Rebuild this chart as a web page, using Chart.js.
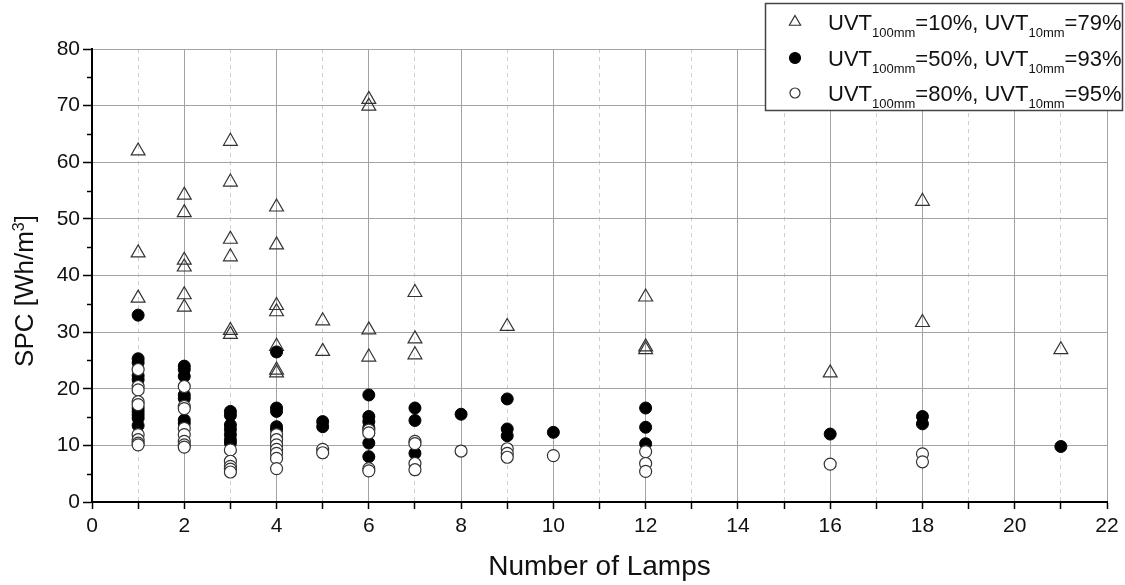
<!DOCTYPE html>
<html>
<head>
<meta charset="utf-8">
<script src="https://cdn.jsdelivr.net/npm/chart.js@4.4.1/dist/chart.umd.min.js"></script>
<style>
  html, body { margin: 0; padding: 0; background: #fff; }
</style>
</head>
<body>
<canvas id="myChart" width="1125" height="585"></canvas>
<script>
// UVT100mm=10%, UVT10mm=79%  (triangles)
const lampsLow = [1, 1, 1, 2, 2, 2, 2, 2, 2, 3, 3, 3, 3, 3, 3, 4, 4, 4, 4, 4, 4, 4, 5, 5, 6, 6, 6, 6, 7, 7, 7, 9, 12, 12, 12, 16, 18, 18, 21];
const spcLow = [62, 44, 36, 54.2, 51.1, 42.7, 41.5, 36.6, 34.4, 63.7, 56.5, 46.4, 43.3, 30.3, 29.6, 52.1, 45.4, 34.7, 33.6, 27.5, 23.3, 22.8, 32, 26.6, 71.1, 69.9, 30.4, 25.6, 37, 28.8, 26, 31, 36.2, 27.4, 26.9, 22.8, 53.1, 31.7, 26.9];

// UVT100mm=50%, UVT10mm=93%  (filled circles)
const lampsMid = [1, 1, 1, 1, 1, 1, 1, 1, 1, 1, 2, 2, 2, 2, 2, 2, 2, 3, 3, 3, 3, 3, 3, 3, 4, 4, 4, 4, 4, 4, 4, 5, 5, 6, 6, 6, 6, 6, 6, 7, 7, 7, 8, 9, 9, 9, 10, 12, 12, 12, 16, 18, 18, 21];
const spcMid = [33, 25.3, 24.6, 22.3, 21.6, 16.6, 16.0, 15.4, 14.8, 13.5, 24.0, 23.4, 22.2, 18.9, 18.3, 14.5, 13.9, 16.0, 15.3, 13.6, 12.8, 11.9, 11.0, 10.4, 26.5, 16.6, 16.0, 13.3, 12.7, 11.2, 10.2, 14.2, 13.3, 18.9, 15.1, 14.2, 13.1, 10.4, 8.0, 16.6, 14.4, 8.6, 15.5, 18.2, 12.9, 11.7, 12.3, 16.6, 13.2, 10.3, 12.0, 15.1, 13.8, 9.8];

// UVT100mm=80%, UVT10mm=95%  (open circles)
const lampsHigh = [1, 1, 1, 1, 1, 1, 1, 1, 1, 2, 2, 2, 2, 2, 2, 2, 2, 3, 3, 3, 3, 3, 4, 4, 4, 4, 4, 4, 4, 5, 5, 6, 6, 6, 6, 7, 7, 7, 7, 8, 9, 9, 9, 10, 12, 12, 12, 16, 18, 18];
const spcHigh = [23.4, 20.4, 19.8, 17.7, 17.2, 11.9, 11.0, 10.4, 10.1, 20.4, 16.9, 16.5, 13.0, 11.9, 10.7, 10.1, 9.7, 9.2, 7.2, 6.3, 5.8, 5.3, 11.9, 11.0, 10.1, 9.3, 8.6, 7.7, 5.9, 9.3, 8.7, 12.7, 12.2, 5.9, 5.5, 10.7, 10.3, 6.8, 5.7, 9.0, 9.4, 8.6, 7.9, 8.2, 8.9, 6.8, 5.4, 6.7, 8.5, 7.1];

// legend text pieces
const uvt100 = ["10%", "50%", "80%"];
const uvt10 = ["79%", "93%", "95%"];

const xTicks = [0, 2, 4, 6, 8, 10, 12, 14, 16, 18, 20, 22];
const yTicks = [0, 10, 20, 30, 40, 50, 60, 70, 80];

const FONT = "Arial, 'Liberation Sans', Helvetica, sans-serif";

function toPoints(xs, ys) {
  return xs.map((x, i) => ({ x: x, y: ys[i] }));
}

// minor y ticks, y title with superscript, and the boxed legend
const extras = {
  id: "extras",
  afterDraw(chart) {
    const ctx = chart.ctx;
    const xs = chart.scales.x;
    const ys = chart.scales.y;

    // short ticks at the 5s
    ctx.save();
    ctx.strokeStyle = "#000";
    ctx.lineWidth = 1.5;
    for (let v = 5; v < 80; v += 10) {
      const py = Math.round(ys.getPixelForValue(v)) + 0.5;
      ctx.beginPath();
      ctx.moveTo(xs.left - 5, py);
      ctx.lineTo(xs.left, py);
      ctx.stroke();
    }
    ctx.restore();

    // y title: SPC [Wh/m³]
    ctx.save();
    ctx.translate(33, 291);
    ctx.rotate(-Math.PI / 2);
    ctx.fillStyle = "#111";
    ctx.textBaseline = "alphabetic";
    ctx.textAlign = "left";
    const big = "26px " + FONT;
    const small = "16px " + FONT;
    ctx.font = big;
    const wA = ctx.measureText("SPC [Wh/m").width;
    const wC = ctx.measureText("]").width;
    ctx.font = small;
    const wB = ctx.measureText("3").width;
    let tx = -(wA + wB + wC) / 2;
    ctx.font = big;
    ctx.fillText("SPC [Wh/m", tx, 0);
    tx += wA;
    ctx.font = small;
    ctx.fillText("3", tx, -9);
    tx += wB;
    ctx.font = big;
    ctx.fillText("]", tx, 0);
    ctx.restore();

    // legend box
    ctx.save();
    ctx.fillStyle = "#fff";
    ctx.strokeStyle = "#444";
    ctx.lineWidth = 1.5;
    ctx.fillRect(765, 3, 358, 108);
    ctx.strokeRect(765.5, 3.5, 357, 107);

    const baselines = [30, 66, 101];
    const ds = chart.data.datasets;
    const markerSize = [6.5, 5.5, 5];
    baselines.forEach((by, i) => {
      const d = ds[i];
      ctx.fillStyle = d.backgroundColor;
      ctx.strokeStyle = d.borderColor;
      ctx.lineWidth = 1.2;
      Chart.helpers.drawPoint(ctx, { pointStyle: d.pointStyle, radius: markerSize[i], rotation: 0, borderWidth: 1.2 }, 795, by - 8);

      const parts = [
        { t: "UVT", sub: false },
        { t: "100mm", sub: true },
        { t: "=" + uvt100[i] + ", UVT", sub: false },
        { t: "10mm", sub: true },
        { t: "=" + uvt10[i], sub: false }
      ];
      let x = 828;
      ctx.fillStyle = "#111";
      ctx.textBaseline = "alphabetic";
      ctx.textAlign = "left";
      parts.forEach(p => {
        ctx.font = (p.sub ? "13px " : "22px ") + FONT;
        ctx.fillText(p.t, x, p.sub ? by + 7 : by);
        x += ctx.measureText(p.t).width;
      });
    });
    ctx.restore();
  }
};

const ctx = document.getElementById("myChart").getContext("2d");
const myChart = new Chart(ctx, {
  type: "scatter",
  data: {
    datasets: [
      {
        label: "UVT100mm=10%, UVT10mm=79%",
        data: toPoints(lampsLow, spcLow),
        pointStyle: "triangle",
        pointRadius: 8,
        backgroundColor: "rgba(255,255,255,0)",
        borderColor: "#333",
        borderWidth: 1.2,
        order: 2
      },
      {
        label: "UVT100mm=50%, UVT10mm=93%",
        data: toPoints(lampsMid, spcMid),
        pointStyle: "circle",
        pointRadius: 6,
        backgroundColor: "#000",
        borderColor: "#000",
        borderWidth: 1,
        order: 1
      },
      {
        label: "UVT100mm=80%, UVT10mm=95%",
        data: toPoints(lampsHigh, spcHigh),
        pointStyle: "circle",
        pointRadius: 6,
        backgroundColor: "#fff",
        borderColor: "#333",
        borderWidth: 1.2,
        order: 0
      }
    ]
  },
  options: {
    responsive: false,
    animation: false,
    devicePixelRatio: 1,
    layout: { padding: { top: 49, right: 18, left: 0, bottom: 0 } },
    plugins: {
      legend: { display: false },
      tooltip: { enabled: false }
    },
    scales: {
      x: {
        type: "linear",
        min: 0,
        max: 22,
        afterFit: (s) => { s.height = 83; },
        afterBuildTicks: (s) => {
          const t = [];
          for (let v = 0; v <= 22; v++) t.push({ value: v });
          s.ticks = t;
        },
        ticks: {
          autoSkip: false,
          maxRotation: 0,
          padding: 5,
          color: "#111",
          font: { family: FONT, size: 21 },
          callback: (v) => (xTicks.includes(v) ? String(v) : "")
        },
        grid: {
          color: (c) => (c.tick && c.tick.value % 2 === 1 ? "#cfcfcf" : "#a3a3a3"),
          lineWidth: 1,
          tickLength: 7,
          tickColor: "#000",
          tickWidth: 1.5
        },
        border: {
          color: "#000",
          width: 2,
          dash: (c) => (c.tick && c.tick.value % 2 === 1 ? [4, 4] : [])
        },
        title: {
          display: true,
          text: "Number of Lamps",
          color: "#111",
          font: { family: FONT, size: 28 },
          padding: { top: 0, bottom: 1 }
        }
      },
      y: {
        type: "linear",
        min: 0,
        max: 80,
        afterFit: (s) => { s.width = 92; },
        afterBuildTicks: (s) => {
          s.ticks = yTicks.map((v) => ({ value: v }));
        },
        ticks: {
          padding: 3,
          color: "#111",
          font: { family: FONT, size: 21 }
        },
        grid: {
          color: "#a3a3a3",
          lineWidth: 1,
          tickLength: 9,
          tickColor: "#000",
          tickWidth: 1.5
        },
        border: { color: "#000", width: 2 }
      }
    }
  },
  plugins: [extras]
});
</script>
</body>
</html>
